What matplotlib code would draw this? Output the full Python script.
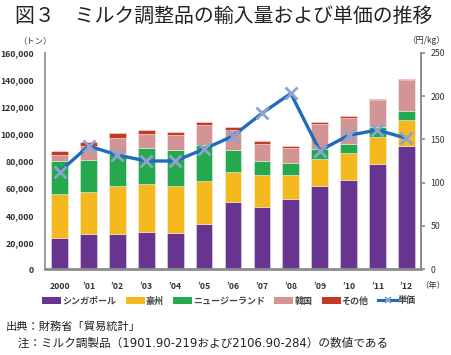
import matplotlib
matplotlib.use("Agg")
import matplotlib.pyplot as plt
import numpy as np
from matplotlib.patches import Patch
from matplotlib.lines import Line2D

plt.rcParams['font.family'] = ['Noto Sans CJK JP', 'DejaVu Sans']

years = ["2000", "’01", "’02", "’03", "’04", "’05", "’06", "’07", "’08", "’09", "’10", "’11", "’12"]
singapore = [23400, 26300, 26100, 27300, 27100, 33200, 49700, 46300, 51700, 61800, 65700, 77500, 91300]
australia = [32200, 30800, 35700, 35700, 34700, 32000, 22200, 23400, 18000, 19400, 19900, 20200, 19000]
new_zealand = [24600, 23600, 23400, 26800, 26600, 26600, 16500, 10300, 8600, 7900, 6600, 7400, 6600]
korea = [4200, 10300, 11600, 9800, 10600, 15000, 14500, 12800, 11600, 18500, 19500, 19700, 22900]
other = [2700, 2700, 3700, 3000, 2700, 2000, 2200, 2000, 1200, 1200, 1200, 1000, 700]
unit_price = [112.7, 142.3, 131.9, 125.0, 125.0, 138.8, 153.8, 180.0, 203.0, 136.9, 154.6, 160.8, 151.2]

series_names = ["シンガポール", "豪州", "ニュージーランド", "韓国", "その他"]
series = [singapore, australia, new_zealand, korea, other]
colors = ["#67358F", "#F4B91E", "#25A84E", "#D39494", "#C43B25"]
line_color = "#1F6CBA"
marker_color = "#8EA3CE"

fig = plt.figure(figsize=(4.52, 3.55), dpi=100)
ax = fig.add_axes([0.1, 0.2414, 0.831, 0.6102])
x = np.arange(len(years))
bottom = np.zeros(len(years))
for vals, c in zip(series, colors):
    ax.bar(x, vals, width=0.58, bottom=bottom, color=c, edgecolor=(1, 1, 1, 0.45), linewidth=0.6, zorder=2)
    bottom += np.array(vals)

ax.set_xlim(-0.5, len(years) - 0.5)
ax.set_ylim(0, 160000)
ax.set_yticks(np.arange(0, 160001, 20000))
ax.set_yticklabels([f"{v:,}" for v in range(0, 160001, 20000)], fontsize=6.3, fontweight='bold', color="#333333")
ax.set_xticks(x)
ax.set_xticklabels(years, fontsize=6.3, fontweight='bold', color="#333333")
ax.tick_params(axis='y', length=0, pad=8)
ax.tick_params(axis='x', length=0, pad=9)
for s in ['top', 'right']:
    ax.spines[s].set_visible(False)
ax.spines['left'].set_color("#8C8C8C")
ax.spines['left'].set_linewidth(1.2)
ax.spines['bottom'].set_color("#8C8C8C")
ax.spines['bottom'].set_linewidth(2.0)

ax2 = ax.twinx()
ax2.plot(x, unit_price, color=line_color, linewidth=2.4, marker='x', markersize=8,
         markeredgewidth=2.0, markeredgecolor=marker_color, zorder=5)
ax2.set_ylim(0, 250)
ax2.set_yticks(np.arange(0, 251, 50))
ax2.set_yticklabels([str(v) for v in range(0, 251, 50)], fontsize=6.3, color="#333333")
ax2.tick_params(axis='y', length=3, width=1.2, color="#8C8C8C", pad=4)
for s in ['top', 'left', 'bottom']:
    ax2.spines[s].set_visible(False)
ax2.spines['right'].set_color("#8C8C8C")
ax2.spines['right'].set_linewidth(1.4)

fig.text(0.04, 0.885, "（トン）", fontsize=6, color="#333333", ha='left', va='center')
fig.text(0.985, 0.885, "（円/kg）", fontsize=6, color="#333333", ha='right', va='center')
fig.text(0.985, 0.197, "（年）", fontsize=6, color="#333333", ha='right', va='center')

fig.text(0.033, 0.953, "図３　ミルク調整品の輸入量および単価の推移", fontsize=14.3, color="#222222",
         ha='left', va='center')

handles = [Patch(facecolor=c, edgecolor='none') for c in colors]
handles.append(Line2D([0], [0], color=line_color, linewidth=2.2, marker='x', markersize=5,
                      markeredgewidth=1.5, markeredgecolor=marker_color))
labels = series_names + ["単価"]
fig.legend(handles, labels, loc='center', bbox_to_anchor=(0.507, 0.152), ncol=6, frameon=False,
           handlelength=2.1, handleheight=0.7, handletextpad=0.1, columnspacing=1.05,
           labelcolor="#444444", prop={'weight': 'bold', 'size': 6.5})

fig.text(0.013, 0.081, "出典：財務省「貿易統計」", fontsize=8.1, color="#222222", ha='left', va='center')
fig.text(0.013, 0.033, "　注：ミルク調製品（1901.90-219および2106.90-284）の数値である", fontsize=8.4,
         color="#222222", ha='left', va='center', family=['DejaVu Sans', 'Noto Sans CJK JP'])

fig.savefig("out.png", dpi=100)
